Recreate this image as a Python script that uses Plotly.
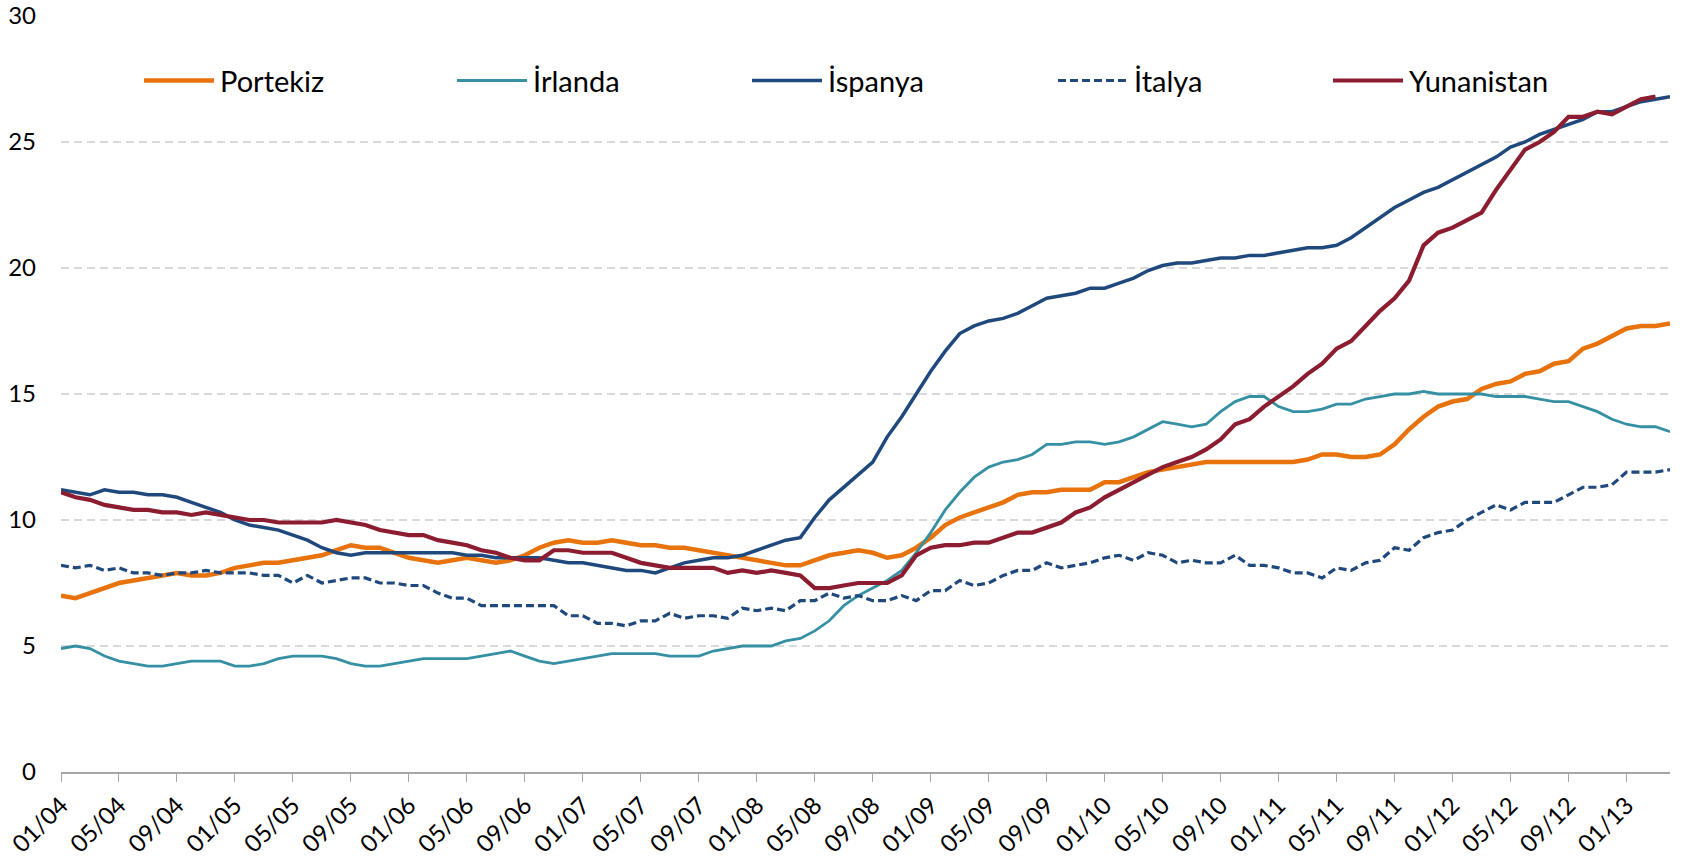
import plotly.graph_objects as go

# Aylar: 01/04 - 04/13
MONTHS = [f"{m:02d}/{y:02d}" for y in range(4, 14) for m in range(1, 13)][:112]

portekiz = [
    7.0, 6.9, 7.1, 7.3, 7.5, 7.6, 7.7, 7.8, 7.9, 7.8, 7.8, 7.9,
    8.1, 8.2, 8.3, 8.3, 8.4, 8.5, 8.6, 8.8, 9.0, 8.9, 8.9, 8.7,
    8.5, 8.4, 8.3, 8.4, 8.5, 8.4, 8.3, 8.4, 8.6, 8.9, 9.1, 9.2,
    9.1, 9.1, 9.2, 9.1, 9.0, 9.0, 8.9, 8.9, 8.8, 8.7, 8.6, 8.5,
    8.4, 8.3, 8.2, 8.2, 8.4, 8.6, 8.7, 8.8, 8.7, 8.5, 8.6, 8.9,
    9.3, 9.8, 10.1, 10.3, 10.5, 10.7, 11.0, 11.1, 11.1, 11.2, 11.2, 11.2,
    11.5, 11.5, 11.7, 11.9, 12.0, 12.1, 12.2, 12.3, 12.3, 12.3, 12.3, 12.3,
    12.3, 12.3, 12.4, 12.6, 12.6, 12.5, 12.5, 12.6, 13.0, 13.6, 14.1, 14.5,
    14.7, 14.8, 15.2, 15.4, 15.5, 15.8, 15.9, 16.2, 16.3, 16.8, 17.0, 17.3,
    17.6, 17.7, 17.7, 17.8,
]
irlanda = [
    4.9, 5.0, 4.9, 4.6, 4.4, 4.3, 4.2, 4.2, 4.3, 4.4, 4.4, 4.4,
    4.2, 4.2, 4.3, 4.5, 4.6, 4.6, 4.6, 4.5, 4.3, 4.2, 4.2, 4.3,
    4.4, 4.5, 4.5, 4.5, 4.5, 4.6, 4.7, 4.8, 4.6, 4.4, 4.3, 4.4,
    4.5, 4.6, 4.7, 4.7, 4.7, 4.7, 4.6, 4.6, 4.6, 4.8, 4.9, 5.0,
    5.0, 5.0, 5.2, 5.3, 5.6, 6.0, 6.6, 7.0, 7.3, 7.6, 8.0, 8.7,
    9.5, 10.4, 11.1, 11.7, 12.1, 12.3, 12.4, 12.6, 13.0, 13.0, 13.1, 13.1,
    13.0, 13.1, 13.3, 13.6, 13.9, 13.8, 13.7, 13.8, 14.3, 14.7, 14.9, 14.9,
    14.5, 14.3, 14.3, 14.4, 14.6, 14.6, 14.8, 14.9, 15.0, 15.0, 15.1, 15.0,
    15.0, 15.0, 15.0, 14.9, 14.9, 14.9, 14.8, 14.7, 14.7, 14.5, 14.3, 14.0,
    13.8, 13.7, 13.7, 13.5,
]
ispanya = [
    11.2, 11.1, 11.0, 11.2, 11.1, 11.1, 11.0, 11.0, 10.9, 10.7, 10.5, 10.3,
    10.0, 9.8, 9.7, 9.6, 9.4, 9.2, 8.9, 8.7, 8.6, 8.7, 8.7, 8.7,
    8.7, 8.7, 8.7, 8.7, 8.6, 8.6, 8.5, 8.5, 8.5, 8.5, 8.4, 8.3,
    8.3, 8.2, 8.1, 8.0, 8.0, 7.9, 8.1, 8.3, 8.4, 8.5, 8.5, 8.6,
    8.8, 9.0, 9.2, 9.3, 10.1, 10.8, 11.3, 11.8, 12.3, 13.3, 14.1, 15.0,
    15.9, 16.7, 17.4, 17.7, 17.9, 18.0, 18.2, 18.5, 18.8, 18.9, 19.0, 19.2,
    19.2, 19.4, 19.6, 19.9, 20.1, 20.2, 20.2, 20.3, 20.4, 20.4, 20.5, 20.5,
    20.6, 20.7, 20.8, 20.8, 20.9, 21.2, 21.6, 22.0, 22.4, 22.7, 23.0, 23.2,
    23.5, 23.8, 24.1, 24.4, 24.8, 25.0, 25.3, 25.5, 25.7, 25.9, 26.2, 26.2,
    26.4, 26.6, 26.7, 26.8,
]
italya = [
    8.2, 8.1, 8.2, 8.0, 8.1, 7.9, 7.9, 7.8, 7.9, 7.9, 8.0, 7.9,
    7.9, 7.9, 7.8, 7.8, 7.5, 7.8, 7.5, 7.6, 7.7, 7.7, 7.5, 7.5,
    7.4, 7.4, 7.1, 6.9, 6.9, 6.6, 6.6, 6.6, 6.6, 6.6, 6.6, 6.2,
    6.2, 5.9, 5.9, 5.8, 6.0, 6.0, 6.3, 6.1, 6.2, 6.2, 6.1, 6.5,
    6.4, 6.5, 6.4, 6.8, 6.8, 7.1, 6.9, 7.0, 6.8, 6.8, 7.0, 6.8,
    7.2, 7.2, 7.6, 7.4, 7.5, 7.8, 8.0, 8.0, 8.3, 8.1, 8.2, 8.3,
    8.5, 8.6, 8.4, 8.7, 8.6, 8.3, 8.4, 8.3, 8.3, 8.6, 8.2, 8.2,
    8.1, 7.9, 7.9, 7.7, 8.1, 8.0, 8.3, 8.4, 8.9, 8.8, 9.3, 9.5,
    9.6, 10.0, 10.3, 10.6, 10.4, 10.7, 10.7, 10.7, 11.0, 11.3, 11.3, 11.4,
    11.9, 11.9, 11.9, 12.0,
]
yunanistan = [
    11.1, 10.9, 10.8, 10.6, 10.5, 10.4, 10.4, 10.3, 10.3, 10.2, 10.3, 10.2,
    10.1, 10.0, 10.0, 9.9, 9.9, 9.9, 9.9, 10.0, 9.9, 9.8, 9.6, 9.5,
    9.4, 9.4, 9.2, 9.1, 9.0, 8.8, 8.7, 8.5, 8.4, 8.4, 8.8, 8.8,
    8.7, 8.7, 8.7, 8.5, 8.3, 8.2, 8.1, 8.1, 8.1, 8.1, 7.9, 8.0,
    7.9, 8.0, 7.9, 7.8, 7.3, 7.3, 7.4, 7.5, 7.5, 7.5, 7.8, 8.6,
    8.9, 9.0, 9.0, 9.1, 9.1, 9.3, 9.5, 9.5, 9.7, 9.9, 10.3, 10.5,
    10.9, 11.2, 11.5, 11.8, 12.1, 12.3, 12.5, 12.8, 13.2, 13.8, 14.0, 14.5,
    14.9, 15.3, 15.8, 16.2, 16.8, 17.1, 17.7, 18.3, 18.8, 19.5, 20.9, 21.4,
    21.6, 21.9, 22.2, 23.1, 23.9, 24.7, 25.0, 25.4, 26.0, 26.0, 26.2, 26.1,
    26.4, 26.7, 26.8, None,
]

SERIES = [
    ("Portekiz", portekiz, "#E8720C", 4.5, "solid"),
    ("İrlanda", irlanda, "#3690A4", 2.8, "solid"),
    ("İspanya", ispanya, "#1F497D", 3.5, "solid"),
    ("İtalya", italya, "#1F497D", 3.2, "8px,4px"),
    ("Yunanistan", yunanistan, "#8C1D30", 4.2, "solid"),
]

FONT = "Lato"
W, H = 1685, 857
L, R, T, B = 61, 15, 16, 85

fig = go.Figure()
for name, vals, color, width, dash in SERIES:
    fig.add_trace(go.Scatter(x=MONTHS, y=vals, name=name, mode="lines",
                             line={"color": color, "width": width, "dash": dash},
                             connectgaps=False, showlegend=False))

# Elle çizilen açıklama (Excel tarzı uzun çizgi örnekleri)
legend_x = [144, 457, 752, 1058, 1333]
legend_y = 80.5
plot_w = W - L - R
plot_h = H - T - B
ly = (H - B - legend_y) / plot_h
for (name, vals, color, width, dash), px in zip(SERIES, legend_x):
    x0 = (px - L) / plot_w
    x1 = (px + 70 - L) / plot_w
    fig.add_shape(type="line", xref="paper", yref="paper", x0=x0, x1=x1, y0=ly, y1=ly,
                  line={"color": color, "width": width, "dash": dash})
    fig.add_annotation(text=name, xref="paper", yref="paper", x=(px + 74 - L) / plot_w, y=ly,
                       xanchor="left", yanchor="middle", showarrow=False,
                       font={"family": FONT, "size": 29, "color": "#000000"})

fig.update_layout(width=W, height=H,
                  margin={"l": L, "r": R, "t": T, "b": B, "autoexpand": False},
                  paper_bgcolor="white", plot_bgcolor="white",
                  showlegend=False,
                  font={"family": FONT, "size": 24, "color": "#000000"},
                  xaxis={"type": "category", "range": [0, len(MONTHS) - 1],
                         "automargin": False,
                         "tickvals": MONTHS[::4], "ticktext": MONTHS[::4],
                         "tickangle": -45, "showgrid": False,
                         "showline": True, "linecolor": "#A6A6A6", "linewidth": 1.5,
                         "ticks": "outside", "ticklen": 8, "tickcolor": "#A6A6A6",
                         "tickfont": {"size": 24}},
                  yaxis={"range": [0, 30], "dtick": 5, "showline": False,
                         "automargin": False,
                         "zeroline": False, "showgrid": True,
                         "gridcolor": "#D9D9D9", "gridwidth": 1.5, "griddash": "8px,5px",
                         "ticklabelstandoff": 24,
                         "tickfont": {"size": 24}})

# Sayfa kenar boşluğunu kaldır, grafik sol üst köşeye otursun; araç çubuğu gizli
fig.write_html("out.html", config={"displayModeBar": False},
               post_script="document.body.style.margin='0';")
